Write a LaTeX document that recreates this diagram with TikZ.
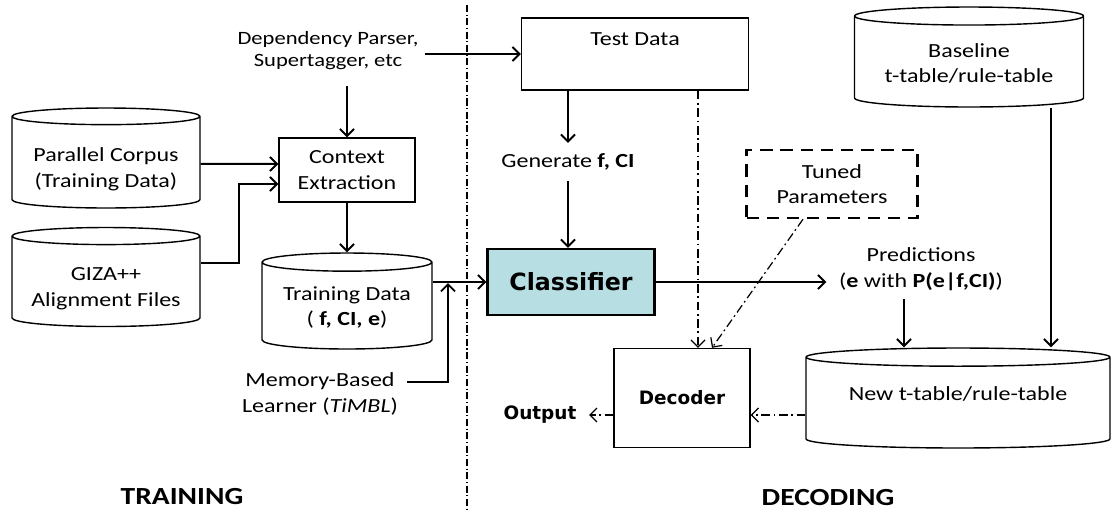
\documentclass[tikz,border=0pt]{standalone}
\usepackage{fontspec}
\setmainfont{Carlito}[FakeStretch=1.2]
\newfontfamily\blockfont{DejaVu Sans}
\usepackage{tikz}
\usetikzlibrary{shapes,arrows}
\usetikzlibrary{arrows.meta}
\definecolor{clsblue}{HTML}{B7DEE2}

\begin{document}
\begin{tikzpicture}[x=0.02cm, y=-0.02cm]
\tikzstyle{every node}=[font=\fontsize{11.4}{14.5}\selectfont, align=center]
\tikzstyle{box}=[draw, line width=0.8pt]
\tikzstyle{db}=[draw, cylinder, shape border rotate=90, line width=0.8pt, anchor=shape center]
\tikzstyle{flow}=[-{Straight Barb[length=4pt,width=8pt]}, line width=1.1pt]
\tikzstyle{dotflow}=[-{Straight Barb[length=4pt,width=8pt]}, line width=0.7pt, dash pattern=on 5pt off 2pt on 1pt off 2pt]
\tikzstyle{heavy}=[font=\blockfont\bfseries\fontsize{10.5}{13}\selectfont]
\useasboundingbox (0,0) rectangle (1118,511);

\draw [line width=0.6pt, dash pattern=on 4pt off 1.5pt on 0.6pt off 1.5pt] (467,5) -- (467,511);

\node (deps) [font=\fontsize{10.7}{12.5}\selectfont, inner ysep=9pt] at (328,51) {Dependency Parser,\\Supertagger, etc};
\node (test) [box, minimum width=4.54cm, minimum height=1.44cm] at (635,54) {Test Data\\[2pt]\mbox{}};
\node (ctx) [box, minimum width=2.72cm, minimum height=1.28cm] at (347,170) {Context\\Extraction};
\node (par) [db, minimum width=3.76cm, minimum height=2cm, aspect=0.106] at (106,158) {\rule{0pt}{14pt}Parallel Corpus\\(Training Data)};
\node (giza) [db, minimum width=3.76cm, minimum height=1.98cm, aspect=0.106] at (106,277) {\rule{0pt}{14pt}GIZA++\\Alignment Files};
\node (tdata) [db, minimum width=3.4cm, minimum height=1.92cm, aspect=0.13] at (347,301) {Training Data\\( \textbf{f, CI, e})};
\node (mem) [inner xsep=5pt] at (320,394) {Memory-Based\\Learner (\textit{TiMBL})};
\node (gen) [inner ysep=6pt] at (568,162) {Generate \textbf{f, CI}};
\node (cls) [box, fill=clsblue, line width=1.3pt, minimum width=3.34cm, minimum height=1.32cm, font=\blockfont\bfseries\fontsize{13.5}{16}\selectfont] at (571,282) {Classifier};
\node (tuned) [draw, line width=1.4pt, dash pattern=on 7pt off 4.5pt, minimum width=3.42cm, minimum height=1.36cm] at (832,184) {Tuned\\Parameters};
\node (dec) [box, heavy, minimum width=2.72cm, minimum height=1.98cm] at (682,398) {Decoder};
\node (out) [heavy, inner xsep=7pt] at (540,415) {Output};
\node (pred) [inner xsep=7pt, inner ysep=5pt] at (921,269) {Predictions\\(\textbf{e} with \textbf{P(e|f,CI)})};
\node (base) [db, minimum width=4.58cm, minimum height=2cm, aspect=0.1] at (969,57) {Baseline\\t-table/rule-table};
\node (newt) [db, minimum width=6.08cm, minimum height=2cm, aspect=0.079] at (958,398) {New t-table/rule-table\\[-2pt]\mbox{}};
\node (trainlbl) [font=\bfseries\fontsize{14}{16}\selectfont] at (182,497) {TRAINING};
\node (declbl) [font=\bfseries\fontsize{14}{16}\selectfont] at (828,498) {DECODING};

\coordinate (jn) at (448,283);
\coordinate (decin) at ([xshift=0.32cm]dec.north);
\coordinate (predout) at ([xshift=-0.34cm]pred.south);
\coordinate (baseout) at ([xshift=1.64cm]base.south);

\draw [flow] (deps.east |- test.west) -- (test.west);
\draw [flow] (deps.south -| ctx.north) -- (ctx.north);
\draw [flow] (par) -- (par -| ctx.west);
\draw [flow] ([yshift=0.41cm]giza.east) -- ++(38,0) |- ([yshift=-0.28cm]ctx.west);
\draw [flow] (ctx.south) -- (tdata.north);
\draw [flow] (tdata.east |- cls.west) -- (cls.west);
\draw [flow] ([yshift=0.24cm]mem.east) -| (jn);
\draw [flow] (test.south -| gen.north) -- (gen.north);
\draw [flow] (gen.south) -- (gen.south |- cls.north);
\draw [flow] (cls.east) -- (pred.west |- cls.east);
\draw [flow] (predout) -- (predout |- newt.north);
\draw [flow] (baseout) -- (baseout |- newt.north);
\draw [dotflow] (decin |- test.south) -- (decin);
\draw [dotflow] ([xshift=-0.58cm]tuned.south) -- ([xshift=0.6cm]dec.north);
\draw [dotflow] (newt.west |- out.east) -- (dec.east |- out.east);
\draw [dotflow] (dec.west |- out.east) -- (out.east);
\end{tikzpicture}
\end{document}
